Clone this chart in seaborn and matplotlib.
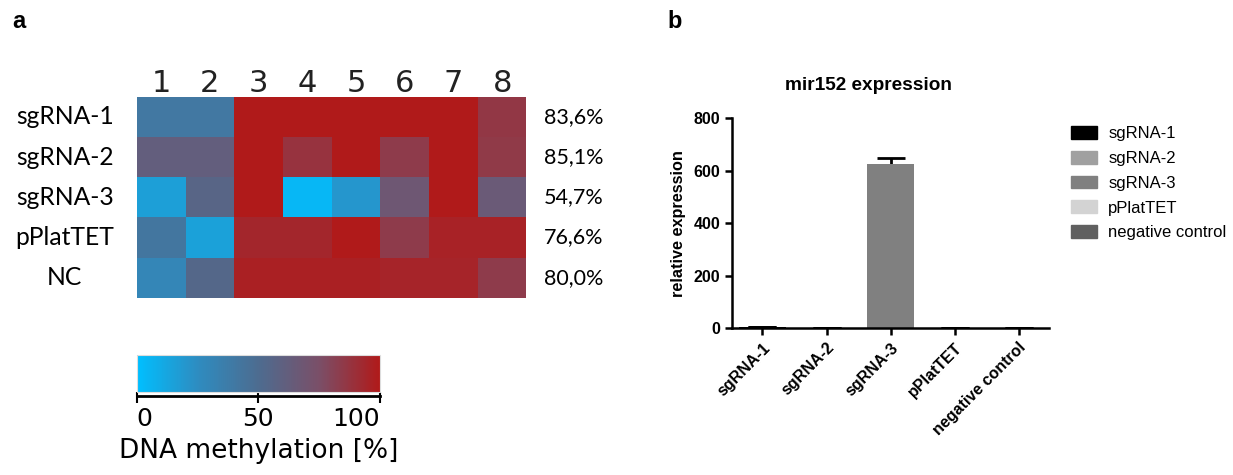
import matplotlib

matplotlib.use("Agg")
import matplotlib.pyplot as plt
import numpy as np
import pandas as pd
import seaborn as sns
from matplotlib.colors import LinearSegmentedColormap
from matplotlib.cm import ScalarMappable
from matplotlib.colors import Normalize

# --- panel a: DNA methylation per CpG position ---
samples = ["sgRNA-1", "sgRNA-2", "sgRNA-3", "pPlatTET", "NC"]
positions = ["1", "2", "3", "4", "5", "6", "7", "8"]
meth_sgrna1 = [41, 41, 100, 100, 100, 100, 100, 86]
meth_sgrna2 = [62, 62, 100, 88, 100, 84, 100, 85]
meth_sgrna3 = [16, 56, 100, 4, 20, 68, 100, 66]
meth_pplattet = [42, 15, 94, 94, 100, 84, 96, 96]
meth_nc = [30, 54, 97, 97, 97, 95, 95, 84]
mean_labels = ["83,6%", "85,1%", "54,7%", "76,6%", "80,0%"]
cbar_ticks = [0, 50, 100]

# --- panel b: mir152 expression ---
groups = ["sgRNA-1", "sgRNA-2", "sgRNA-3", "pPlatTET", "negative control"]
expression = [3, 2, 625, 1, 2]
expression_err = [0, 0, 25, 0, 0]
bar_colors = ["#000000", "#a0a0a0", "#808080", "#d3d3d3", "#606060"]

cmap = LinearSegmentedColormap.from_list(
    "meth", ["#00bfff", "#2e8cc0", "#4d6c90", "#7a4f68", "#b01a1a"]
)

fig = plt.figure(figsize=(12.33, 4.75), dpi=100)

# heatmap
ax_h = fig.add_axes([0.111, 0.373, 0.316, 0.423])
df = pd.DataFrame(
    [meth_sgrna1, meth_sgrna2, meth_sgrna3, meth_pplattet, meth_nc],
    index=samples, columns=positions,
)
sns.heatmap(df, ax=ax_h, cmap=cmap, vmin=0, vmax=100, cbar=False, linewidths=0)
ax_h.xaxis.tick_top()
ax_h.tick_params(axis="both", length=0)
ax_h.set_xticklabels(positions, fontsize=22, family="DejaVu Sans", color="#222222")
ax_h.tick_params(axis="x", pad=-1)
ax_h.set_yticklabels(samples, rotation=0, fontsize=17.7, family="Lato", ha="center")
ax_h.tick_params(axis="y", pad=52)
ax_h.set_xlabel("")
ax_h.set_ylabel("")
for i, lab in enumerate(mean_labels):
    ax_h.text(8.36, i + 0.5, lab, va="center", ha="left", fontsize=15.5, family="Lato")

# colorbar
cax = fig.add_axes([0.111, 0.175, 0.197, 0.078])
cb = fig.colorbar(ScalarMappable(norm=Normalize(0, 100), cmap=cmap), cax=cax,
                  orientation="horizontal")
cb.outline.set_edgecolor("#dddddd")
cb.set_ticks(cbar_ticks)
cb.set_ticklabels([str(t) for t in cbar_ticks], fontsize=18)
cax.tick_params(axis="x", length=8, width=1.5, pad=3)
tick_labels = cax.get_xticklabels()
tick_labels[0].set_ha("left")
tick_labels[-1].set_ha("right")
cax.axhline(-0.1, color="black", lw=2, clip_on=False)
cb.set_label("DNA methylation [%]", fontsize=19, labelpad=5)

# bar chart
ax_b = fig.add_axes([0.594, 0.309, 0.257, 0.442])
sns.barplot(x=groups, y=expression, hue=groups, palette=bar_colors, legend=False,
            width=0.72, ax=ax_b, order=groups, hue_order=groups, zorder=2)
ax_b.errorbar(groups, expression, yerr=expression_err, fmt="none", ecolor="black",
              elinewidth=2, capsize=10, capthick=2, zorder=1)
ax_b.set_ylim(0, 800)
ax_b.set_xlim(-0.47, 4.48)
ax_b.set_yticks([0, 200, 400, 600, 800])
sns.despine(ax=ax_b)
ax_b.spines["left"].set_linewidth(1.8)
ax_b.spines["bottom"].set_linewidth(1.8)
ax_b.tick_params(axis="both", width=1.8, length=5, labelsize=11.5)
for lab in ax_b.get_yticklabels():
    lab.set_fontweight("bold")
    lab.set_family("Liberation Sans")
ax_b.set_xticks(range(len(groups)))
ax_b.set_xticklabels(groups, rotation=45, ha="right", rotation_mode="anchor",
                     fontweight="bold", family="Liberation Sans", fontsize=11.5)
ax_b.set_ylabel("relative expression", fontweight="bold", family="Liberation Sans",
                fontsize=11.7, labelpad=6)
ax_b.set_title("mir152 expression", fontweight="bold", family="Liberation Sans",
               fontsize=13.7, pad=20, x=0.43)

handles = [plt.Rectangle((0, 0), 1, 1, color=c) for c in bar_colors]
ax_b.legend(handles, groups, loc="upper left", bbox_to_anchor=(1.02, 1.035),
            frameon=False, prop={"family": "Liberation Sans", "size": 12},
            handlelength=1.6, handleheight=0.8, labelspacing=0.58, handletextpad=0.65)

fig.text(0.01, 0.98, "a", fontsize=17, fontweight="bold", family="Liberation Sans",
         va="top")
fig.text(0.541, 0.98, "b", fontsize=17, fontweight="bold", family="Liberation Sans",
         va="top")

fig.savefig("out.png", dpi=100, facecolor="white")
